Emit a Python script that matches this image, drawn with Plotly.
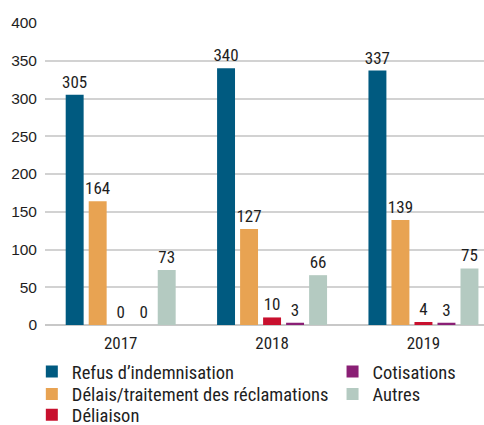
import plotly.graph_objects as go

years = ["2017", "2018", "2019"]
series_names = [
    "Refus d’indemnisation",
    "Délais/traitement des réclamations",
    "Déliaison",
    "Cotisations",
    "Autres",
]
refus = [305, 340, 337]
delais = [164, 127, 139]
deliaison = [0, 10, 4]
cotisations = [0, 3, 3]
autres = [73, 66, 75]
y_ticks = [0, 50, 100, 150, 200, 250, 300, 350, 400]

series_values = [refus, delais, deliaison, cotisations, autres]
colors = ["#005A80", "#E8A352", "#C8102E", "#8A1F75", "#B4CAC1"]

# legend grid: two columns, three rows (paper coordinates of each entry)
legend_ids = ["legend", "legend2", "legend3", "legend4", "legend5"]
legend_x = [-0.03, -0.03, -0.03, 0.655, 0.655]
legend_y = [-0.093, -0.167, -0.236, -0.093, -0.167]

NARROW = "Roboto Condensed, DejaVu Sans Condensed, sans-serif"
REGULAR = "Liberation Sans, Arial, sans-serif"
TEXT = "#1E1E1E"

fig = go.Figure()
for name, vals, col, lg in zip(series_names, series_values, colors, legend_ids):
    fig.add_trace(go.Bar(
        name=name,
        x=years,
        y=vals,
        marker=dict(color=col, line=dict(width=0)),
        text=[str(v) for v in vals],
        textposition="outside",
        constraintext="none",
        cliponaxis=False,
        textfont=dict(family=NARROW, size=17, color=TEXT),
        legend=lg,
    ))

legend_layout = {}
for lg, lx, ly in zip(legend_ids, legend_x, legend_y):
    legend_layout[lg] = dict(
        x=lx,
        y=ly,
        xanchor="left",
        yanchor="top",
        orientation="v",
        font=dict(family=NARROW, size=18.5, color=TEXT),
        bgcolor="rgba(0,0,0,0)",
        borderwidth=0,
        itemclick=False,
        itemdoubleclick=False,
    )

fig.update_layout(
    width=484,
    height=425,
    margin=dict(l=45, r=0, t=23, b=100, autoexpand=False),
    paper_bgcolor="white",
    plot_bgcolor="white",
    barmode="group",
    bargap=0.24,
    bargroupgap=0.22,
    showlegend=True,
    xaxis=dict(
        type="category",
        range=[-0.5, 2.4],
        showgrid=False,
        showline=False,
        ticks="",
        tickfont=dict(family=NARROW, size=17, color=TEXT),
        ticklabelstandoff=6,
    ),
    yaxis=dict(
        range=[0, 400],
        tickvals=y_ticks,
        showgrid=True,
        gridcolor="#D2D2D2",
        gridwidth=1.5,
        zeroline=True,
        zerolinecolor="#C8C8C8",
        zerolinewidth=1.5,
        showline=False,
        ticks="",
        tickfont=dict(family=REGULAR, size=15.5, color=TEXT),
        ticklabelstandoff=7,
    ),
    **legend_layout,
)

fig.write_html("out.html")
